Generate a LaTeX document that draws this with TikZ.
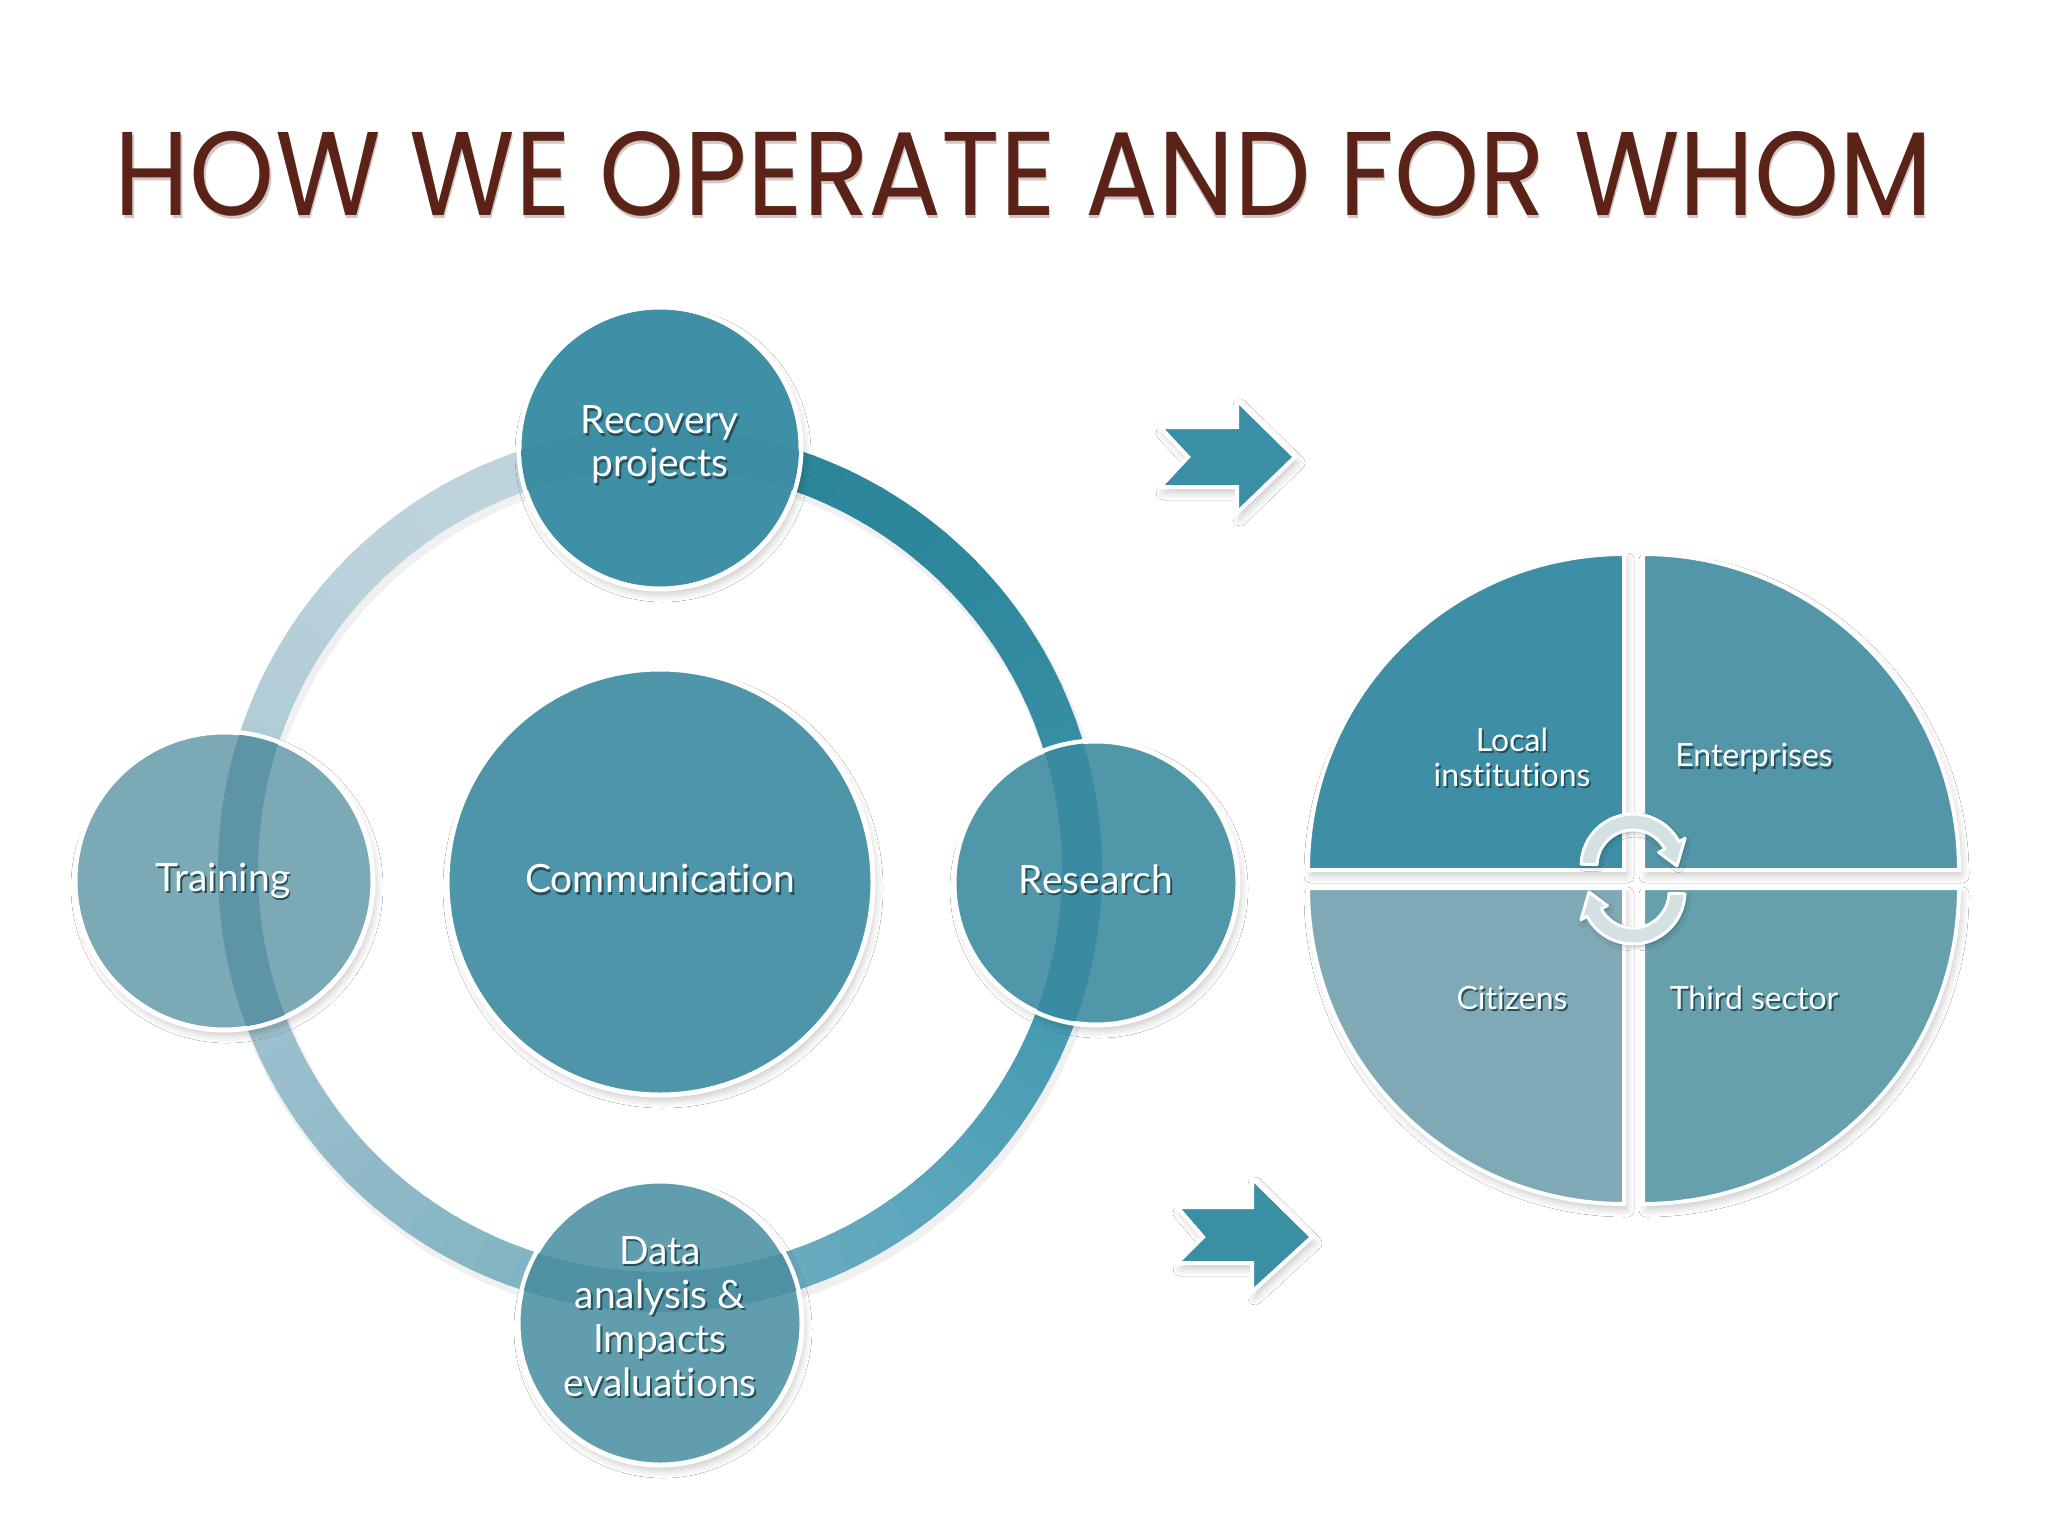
\documentclass[tikz,border=0pt]{standalone}
\usepackage{fontspec}
\setmainfont{Lato}[Ligatures=NoCommon]
\newfontfamily\titlefont{Poppins}
\usetikzlibrary{shadows.blur,calc}
\definecolor{titlec}{HTML}{5B2317}
\definecolor{titlesh}{HTML}{CFC8C6}
\definecolor{txtsh}{HTML}{23505C}
\definecolor{recc}{HTML}{3F90A6}
\definecolor{trac}{HTML}{7BA9B5}
\definecolor{comc}{HTML}{4E95A9}
\definecolor{resc}{HTML}{5097AA}
\definecolor{datc}{HTML}{609DAD}
\definecolor{recb}{HTML}{3C8DA3}
\definecolor{trab}{HTML}{5E95A6}
\definecolor{resb}{HTML}{3A8BA2}
\definecolor{datb}{HTML}{4F90A2}
\definecolor{qa}{HTML}{3E8FA5}
\definecolor{qb}{HTML}{5396A8}
\definecolor{qc}{HTML}{7FA9B5}
\definecolor{qd}{HTML}{65A0AC}
\definecolor{arrowc}{HTML}{3A8FA5}
\definecolor{cycc}{HTML}{D4E1E2}
\definecolor{st0}{HTML}{2B8498}
\definecolor{st1}{HTML}{2E889D}
\definecolor{st2}{HTML}{3A92AA}
\definecolor{st3}{HTML}{58A5BC}
\definecolor{st4}{HTML}{78B0C2}
\definecolor{st5}{HTML}{92BAC8}
\definecolor{st6}{HTML}{A8C7D2}
\definecolor{st7}{HTML}{BCD3DC}
\definecolor{st8}{HTML}{C0D6DE}
\newcommand\sht[1]{\leavevmode\rlap{\hspace{0.9pt}\raisebox{-1.1pt}{\textcolor{txtsh}{#1}}}#1}
\newcommand\tsh[1]{\leavevmode\rlap{\hspace{0.6pt}\raisebox{-2pt}{\textcolor{titlesh}{#1}}}#1}
\begin{document}
\begin{tikzpicture}[x=0.5pt,y=0.5pt,
  softshadow/.style={blur shadow={shadow xshift=1.5pt, shadow yshift=-3pt, shadow blur radius=3.5pt, shadow opacity=20}},
  bub/.style={circle, inner sep=0pt, draw=white, line width=2.5pt, softshadow},
  lbl/.style={text=white, align=center, inner sep=0pt, font=\fontsize{19.5}{21.5}\selectfont},
  plbl/.style={text=white, align=center, inner sep=0pt, font=\fontsize{16}{17.5}\selectfont},
  quad/.style={draw=white, line width=2pt, line join=round, softshadow},
  bigarrow/.style={fill=arrowc, draw=white, line width=2pt, line join=miter, softshadow},
  cyc/.style={fill=cycc, draw=white, line width=1.5pt, line join=round, blur shadow={shadow xshift=1pt, shadow yshift=-1.5pt, shadow blur radius=2pt, shadow opacity=25}},
  ringseg/.style={line width=20pt}]
\useasboundingbox (0,0) rectangle (2048,-1536);
\fill[white] (0,0) rectangle (2048,-1536);

% title
\node[anchor=base, inner sep=0pt, text=titlec] (title) at (1024,-215)
  {\resizebox{909pt}{42pt}{\titlefont\fontsize{60}{60}\selectfont\tsh{HOW WE OPERATE AND FOR WHOM}}};

% ring
\coordinate (RC) at (660,-870);
\draw[line width=22pt, black, opacity=0.06] ($(RC)+(3,-6)$) circle[radius=422];
\foreach \i in {0,...,71}{
  \pgfmathtruncatemacro\k{int(\i/9)}
  \pgfmathtruncatemacro\kk{\k+1}
  \pgfmathtruncatemacro\p{100-100*(\i-9*\k)/9}
  \pgfmathsetmacro\a{90-5*\i}
  \colorlet{segc}{st\k!\p!st\kk}
  \draw[ringseg, segc] (RC) ++(\a:422) arc[start angle=\a, end angle=\a-5.6, radius=422];
}

% circles
\node[bub, minimum size=141pt, fill=recc] (rec) at (660,-448) {};
\node[bub, minimum size=149pt, fill=trac] (tra) at (224,-881) {};
\node[bub, minimum size=213pt, fill=comc] (com) at (660,-882) {};
\node[bub, minimum size=142pt, fill=resc] (res) at (1096,-883) {};
\node[bub, minimum size=142pt, fill=datc] (dat) at (660,-1323) {};

% ring seen through the circles
\begin{scope}
\clip (rec.center) circle[radius=139];
\draw[ringseg, recb] (RC) circle[radius=422];
\end{scope}
\begin{scope}
\clip (tra.center) circle[radius=147];
\draw[ringseg, trab] (RC) circle[radius=422];
\end{scope}
\begin{scope}
\clip (res.center) circle[radius=140];
\draw[ringseg, resb] (RC) circle[radius=422];
\end{scope}
\begin{scope}
\clip (dat.center) circle[radius=140];
\draw[ringseg, datb] (RC) circle[radius=422];
\end{scope}

% circle labels
\node[lbl] (reclbl) at (660,-446) {\sht{Recovery}\\\sht{projects}};
\node[lbl] (tralbl) at (223,-882) {\sht{Training}};
\node[lbl] (comlbl) at (660,-880) {\sht{Communication}};
\node[lbl] (reslbl) at (1096,-880) {\sht{Research}};
\node[lbl, font=\fontsize{19.5}{22}\selectfont] (datlbl) at (660,-1318) {\sht{Data}\\\sht{analysis \&}\\\sht{Impacts}\\\sht{evaluations}};

% big arrows
\filldraw[bigarrow] (1160,-427) -- (1237,-427) -- (1237,-400) -- (1295,-457) -- (1237,-513) -- (1237,-487) -- (1160,-487) -- (1188,-457) -- cycle;
\filldraw[bigarrow] (1177,-1207) -- (1252,-1207) -- (1252,-1178) -- (1312,-1237) -- (1252,-1292) -- (1252,-1263) -- (1177,-1263) -- (1203,-1237) -- cycle;

% quadrant pie
\filldraw[quad, fill=qa] (1624,-870) -- ++(-316,0) arc[start angle=180, end angle=90, radius=316] -- cycle;
\filldraw[quad, fill=qb] (1643,-870) -- ++(0,316) arc[start angle=90, end angle=0, radius=316] -- cycle;
\filldraw[quad, fill=qd] (1643,-888) -- ++(316,0) arc[start angle=0, end angle=-90, radius=316] -- cycle;
\filldraw[quad, fill=qc] (1624,-888) -- ++(0,-316) arc[start angle=270, end angle=180, radius=316] -- cycle;

% cycle arrows
\begin{scope}[shift={(1633,-866)}]
\filldraw[cyc] (178:36) -- (178:52) arc[start angle=178, end angle=28, radius=52] -- (28:59) -- (0:44) -- (28:29) -- (28:36) arc[start angle=28, end angle=178, radius=36] -- cycle;
\end{scope}
\begin{scope}[shift={(1633,-892)}]
\filldraw[cyc] (358:36) -- (358:52) arc[start angle=358, end angle=208, radius=52] -- (208:59) -- (180:44) -- (208:29) -- (208:36) arc[start angle=208, end angle=358, radius=36] -- cycle;
\end{scope}

% pie labels
\node[plbl] (loc) at (1512,-758) {\sht{Local}\\\sht{institutions}};
\node[plbl] (ent) at (1754,-759) {\sht{Enterprises}};
\node[plbl] (cit) at (1512,-999) {\sht{Citizens}};
\node[plbl] (thi) at (1754,-999) {\sht{Third sector}};
\end{tikzpicture}
\end{document}
